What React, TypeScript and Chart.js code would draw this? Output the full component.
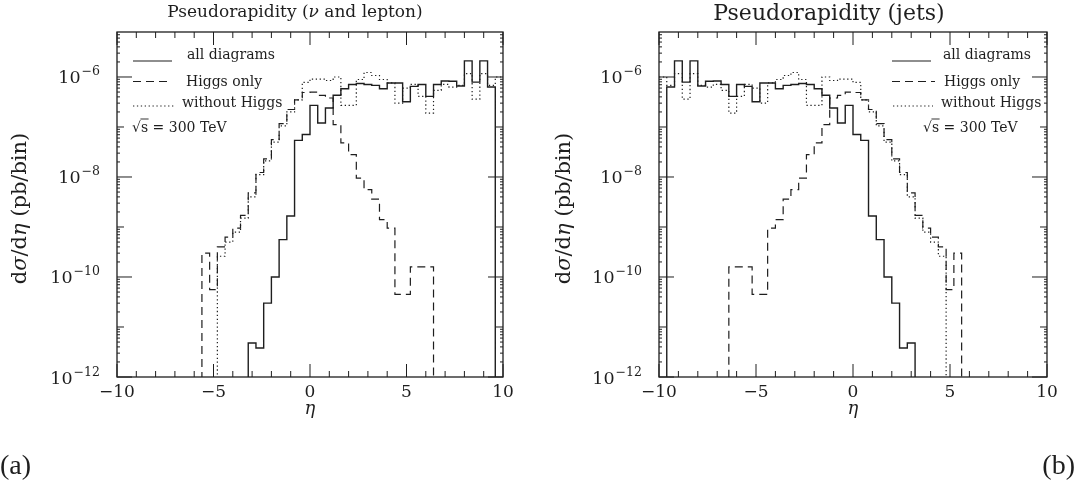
import React, { useEffect, useRef } from "react";
import { Chart, registerables } from "chart.js";

Chart.register(...registerables);

// ---------------- data ----------------
// lower edges of the 0.4-wide pseudorapidity bins
const etaBinLow = [
  -10, -9.6, -9.2, -8.8, -8.4, -8, -7.6, -7.2, -6.8, -6.4,
  -6, -5.6, -5.2, -4.8, -4.4, -4, -3.6, -3.2, -2.8, -2.4,
  -2, -1.6, -1.2, -0.8, -0.4, 0, 0.4, 0.8, 1.2, 1.6,
  2, 2.4, 2.8, 3.2, 3.6, 4, 4.4, 4.8, 5.2, 5.6,
  6, 6.4, 6.8, 7.2, 7.6, 8, 8.4, 8.8, 9.2, 9.6,
];
const etaUpperEdge = 10;
const etaTickLabels = [-10, -5, 0, 5, 10];
const etaMinorTicks = [-10, -9, -8, -7, -6, -5, -4, -3, -2, -1, 0, 1, 2, 3, 4, 5, 6, 7, 8, 9, 10];
const yDecadeExps = [-12, -11, -10, -9, -8, -7, -6];
const yLabelExps = [-12, -10, -8, -6];
const yAxisMin = 1e-12;
const yAxisMax = 7.94e-6;

// (a) neutrino and lepton, pb/bin
const nuLepAll = [
  0, 0, 0, 0, 0, 0, 0, 0, 0, 0,
  0, 0, 0, 0, 0, 0, 0, 4.8e-12, 3.8e-12, 3.0e-11,
  1.0e-10, 5.6e-10, 1.66e-9, 5.4e-8, 7.1e-8, 2.7e-7, 1.2e-7, 2.4e-7, 4.3e-7, 5.8e-7,
  7.1e-7, 7.4e-7, 7.1e-7, 6.8e-7, 5.8e-7, 7.6e-7, 7.6e-7, 3.2e-7, 6.5e-7, 7.1e-7,
  4.1e-7, 7.1e-7, 8.3e-7, 8.2e-7, 6.6e-7, 2.1e-6, 7.9e-7, 2.1e-6, 6.3e-7, 0,
];
const nuLepHiggs = [
  0, 0, 0, 0, 0, 0, 0, 0, 0, 0,
  0, 3.0e-10, 5.6e-11, 4.0e-10, 6.3e-10, 9.5e-10, 1.7e-9, 4.8e-9, 1.23e-8, 2.3e-8,
  5.6e-8, 1.17e-7, 2.24e-7, 3.5e-7, 4.9e-7, 5.0e-7, 4.3e-7, 3.8e-7, 1.12e-7, 4.8e-8,
  2.8e-8, 9.5e-9, 5.6e-9, 3.6e-9, 1.4e-9, 9.5e-10, 4.5e-11, 4.5e-11, 1.6e-10, 1.6e-10,
  1.6e-10, 0, 0, 0, 0, 0, 0, 0, 0, 0,
];
const nuLepNoHiggs = [
  0, 0, 0, 0, 0, 0, 0, 0, 0, 0,
  0, 0, 0, 2.6e-10, 5.0e-10, 7.9e-10, 1.5e-9, 4.0e-9, 1.12e-8, 2.1e-8,
  5.0e-8, 1.05e-7, 2.0e-7, 3.5e-7, 7.8e-7, 9.1e-7, 9.1e-7, 8.5e-7, 1.0e-6, 2.7e-7,
  2.7e-7, 8.9e-7, 1.23e-6, 1.07e-6, 8.9e-7, 7.6e-7, 3.0e-7, 6.0e-7, 7.1e-7, 4.1e-7,
  1.9e-7, 5.4e-7, 7.1e-7, 6.3e-7, 6.8e-7, 1.17e-6, 3.6e-7, 1.17e-6, 6.8e-7, 1.0e-6,
];

// (b) jets, pb/bin
const jetsAll = [
  0, 6.3e-7, 2.1e-6, 7.9e-7, 2.1e-6, 6.6e-7, 8.2e-7, 8.3e-7, 7.1e-7, 4.1e-7,
  7.1e-7, 6.5e-7, 3.2e-7, 7.6e-7, 7.6e-7, 5.8e-7, 6.8e-7, 7.1e-7, 7.4e-7, 7.1e-7,
  5.8e-7, 4.3e-7, 2.4e-7, 1.2e-7, 2.7e-7, 7.1e-8, 5.4e-8, 1.66e-9, 5.6e-10, 1.0e-10,
  3.0e-11, 3.8e-12, 4.8e-12, 0, 0, 0, 0, 0, 0, 0,
  0, 0, 0, 0, 0, 0, 0, 0, 0, 0,
];
const jetsHiggs = [
  0, 0, 0, 0, 0, 0, 0, 0, 0, 1.6e-10,
  1.6e-10, 1.6e-10, 4.5e-11, 4.5e-11, 9.5e-10, 1.4e-9, 3.6e-9, 5.6e-9, 9.5e-9, 2.8e-8,
  4.8e-8, 1.12e-7, 3.8e-7, 4.3e-7, 5.0e-7, 4.9e-7, 3.5e-7, 2.24e-7, 1.17e-7, 5.6e-8,
  2.3e-8, 1.23e-8, 4.8e-9, 1.7e-9, 9.5e-10, 6.3e-10, 4.0e-10, 5.6e-11, 3.0e-10, 0,
  0, 0, 0, 0, 0, 0, 0, 0, 0, 0,
];
const jetsNoHiggs = [
  1.0e-6, 6.8e-7, 1.17e-6, 3.6e-7, 1.17e-6, 6.8e-7, 6.3e-7, 7.1e-7, 5.4e-7, 1.9e-7,
  4.1e-7, 7.1e-7, 6.0e-7, 3.0e-7, 7.6e-7, 8.9e-7, 1.07e-6, 1.23e-6, 8.9e-7, 2.7e-7,
  2.7e-7, 1.0e-6, 8.5e-7, 9.1e-7, 9.1e-7, 7.8e-7, 3.5e-7, 2.0e-7, 1.05e-7, 5.0e-8,
  2.1e-8, 1.12e-8, 4.0e-9, 1.5e-9, 7.9e-10, 5.0e-10, 2.6e-10, 0, 0, 0,
  0, 0, 0, 0, 0, 0, 0, 0, 0, 0,
];

const legendLabels = ["all diagrams", "Higgs only", "without Higgs"];
const energyLabel = "s = 300 TeV";

// ---------------- styling ----------------
const H = 482;
const SERIF = '"DejaVu Serif", serif';
const CMR = '"Liberation Serif", serif';
const INK = "#1e1e1e";
const OFF_SCALE = 1e-14; // empty bins are drawn below the axis floor (clipped)
const DASH = [8, 5];
const DOT = [1.3, 2.6];

type Seg = [string, string];

interface PanelCfg {
  left: number;
  width: number;
  axisWidth: number;
  padRight: number;
  title: Seg[];
  titleX: number;
  titleY: number;
  all: number[];
  higgs: number[];
  noHiggs: number[];
  legendLines: [number, number][];
  legendTextX: number[];
  energyX: number;
  legendFont: string;
  yTitleX: number;
  tag: string;
  tagX: number;
  tagAlign: CanvasTextAlign;
}

function drawSegs(ctx: CanvasRenderingContext2D, segs: Seg[], x: number, y: number, align: string) {
  let total = 0;
  for (const [t, f] of segs) {
    ctx.font = f;
    total += ctx.measureText(t).width;
  }
  let cx = align === "center" ? x - total / 2 : align === "right" ? x - total : x;
  ctx.textAlign = "left";
  for (const [t, f] of segs) {
    ctx.font = f;
    ctx.fillText(t, cx, y);
    cx += ctx.measureText(t).width;
  }
}

function makeDecor(cfg: PanelCfg) {
  return {
    id: "panelDecor",
    afterDraw(chart: any) {
      const ctx: CanvasRenderingContext2D = chart.ctx;
      const { left, right, top, bottom } = chart.chartArea;
      const xs = chart.scales.x;
      const ys = chart.scales.y;
      ctx.save();
      ctx.strokeStyle = INK;
      ctx.fillStyle = INK;
      ctx.setLineDash([]);
      // frame
      ctx.lineWidth = 1.3;
      ctx.strokeRect(left, top, right - left, bottom - top);
      ctx.lineWidth = 1;
      const tick = (x1: number, y1: number, x2: number, y2: number) => {
        ctx.beginPath();
        ctx.moveTo(x1, y1);
        ctx.lineTo(x2, y2);
        ctx.stroke();
      };
      for (const v of etaMinorTicks) {
        const px = xs.getPixelForValue(v);
        const len = etaTickLabels.includes(v) ? 13 : 6;
        tick(px, bottom, px, bottom - len);
        tick(px, top, px, top + len);
      }
      for (const e of yDecadeExps) {
        const py = ys.getPixelForValue(Math.pow(10, e));
        const len = yLabelExps.includes(e) ? 15 : 7;
        tick(left, py, left + len, py);
        tick(right, py, right - len, py);
        for (let m = 2; m <= 9; m++) {
          const v = m * Math.pow(10, e);
          if (v > yAxisMax) break;
          const p = ys.getPixelForValue(v);
          tick(left, p, left + 3, p);
          tick(right, p, right - 3, p);
        }
      }
      // y tick labels with superscript exponents
      ctx.textBaseline = "alphabetic";
      ctx.textAlign = "left";
      for (const e of yLabelExps) {
        const py = ys.getPixelForValue(Math.pow(10, e));
        const exp = "\u2212" + Math.abs(e);
        const fb = `17.5px ${SERIF}`;
        const fs = `12.5px ${SERIF}`;
        ctx.font = fb;
        const wb = ctx.measureText("10").width;
        ctx.font = fs;
        const we = ctx.measureText(exp).width;
        const xr = left - 17;
        ctx.font = fb;
        ctx.fillText("10", xr - we - wb - 1, py + 6.5);
        ctx.font = fs;
        ctx.fillText(exp, xr - we, py - 1.5);
      }
      // y axis title
      ctx.save();
      ctx.translate(cfg.yTitleX, (top + bottom) / 2 + 4);
      ctx.rotate(-Math.PI / 2);
      ctx.textBaseline = "middle";
      const f = `21px ${SERIF}`;
      const fi = `italic 21px ${SERIF}`;
      drawSegs(ctx, [["d", f], ["\u03c3", fi], ["/d", f], ["\u03b7", fi], [" (pb/bin)", f]], 0, 0, "center");
      ctx.restore();
      // panel title
      ctx.textBaseline = "middle";
      drawSegs(ctx, cfg.title, cfg.titleX, cfg.titleY, "center");
      // legend
      const lineYs = [61, 81.5, 106];
      const textYs = [55, 82, 103];
      const dashes = [[], DASH, DOT];
      ctx.lineWidth = 1.2;
      for (let i = 0; i < 3; i++) {
        ctx.setLineDash(dashes[i]);
        const [lx1, lx2] = cfg.legendLines[i];
        tick(lx1, lineYs[i], lx2, lineYs[i]);
      }
      ctx.setLineDash([]);
      ctx.font = cfg.legendFont;
      ctx.textAlign = "left";
      for (let i = 0; i < 3; i++) {
        ctx.fillText(legendLabels[i], cfg.legendTextX[i], textYs[i]);
      }
      // sqrt(s) = 300 TeV
      const ey = 128;
      ctx.font = cfg.legendFont;
      const wRoot = ctx.measureText("\u221a").width;
      const wS = ctx.measureText("s").width;
      ctx.fillText("\u221a", cfg.energyX, ey);
      ctx.fillText(energyLabel, cfg.energyX + wRoot, ey);
      ctx.lineWidth = 0.9;
      tick(cfg.energyX + wRoot - 0.5, ey - 9, cfg.energyX + wRoot + wS + 0.5, ey - 9);
      // (a)/(b) tag
      ctx.font = `28px ${CMR}`;
      ctx.textAlign = cfg.tagAlign;
      ctx.textBaseline = "alphabetic";
      ctx.fillText(cfg.tag, cfg.tagX, 474);
      ctx.restore();
    },
  };
}

function toPoints(vals: number[]) {
  const pts = etaBinLow.map((x, i) => ({ x, y: vals[i] > 0 ? vals[i] : OFF_SCALE }));
  const last = vals[vals.length - 1];
  pts.push({ x: etaUpperEdge, y: last > 0 ? last : OFF_SCALE });
  return pts;
}

function fmtEta(v: number) {
  return v < 0 ? "\u2212" + Math.abs(v) : String(v);
}

function Panel({ cfg }: { cfg: PanelCfg }) {
  const ref = useRef<HTMLCanvasElement>(null);
  useEffect(() => {
    if (!ref.current) return;
    const common = { stepped: "before", pointRadius: 0, borderColor: INK, fill: false, tension: 0 };
    const chart = new Chart(ref.current, {
      type: "line",
      data: {
        datasets: [
          { ...common, label: legendLabels[2], data: toPoints(cfg.noHiggs), borderWidth: 1.2, borderDash: DOT },
          { ...common, label: legendLabels[1], data: toPoints(cfg.higgs), borderWidth: 1.2, borderDash: DASH },
          { ...common, label: legendLabels[0], data: toPoints(cfg.all), borderWidth: 1.4 },
        ] as any,
      },
      options: {
        responsive: false,
        animation: false,
        events: [],
        layout: { padding: { left: 0, right: cfg.padRight, top: 32, bottom: 0 } },
        scales: {
          x: {
            type: "linear",
            min: -10,
            max: 10,
            grid: { display: false, drawTicks: false },
            border: { display: false },
            ticks: {
              stepSize: 5,
              padding: 5,
              autoSkip: false,
              maxRotation: 0,
              color: INK,
              font: { family: SERIF, size: 17 },
              callback: (v: any) => fmtEta(Number(v)),
            },
            title: {
              display: true,
              text: "\u03b7",
              color: INK,
              font: { family: SERIF, size: 18, style: "italic" },
              padding: { top: 0, bottom: 62 },
            },
            afterFit: (s: any) => {
              s.height = H - 377;
            },
          },
          y: {
            type: "logarithmic",
            min: yAxisMin,
            max: yAxisMax,
            grid: { display: false, drawTicks: false },
            border: { display: false },
            ticks: { display: false },
            afterFit: (s: any) => {
              s.width = cfg.axisWidth;
            },
          },
        },
        plugins: {
          legend: { display: false },
          tooltip: { enabled: false },
          title: { display: false },
        },
      } as any,
      plugins: [makeDecor(cfg)],
    });
    return () => chart.destroy();
  }, [cfg]);
  return (
    <canvas
      ref={ref}
      width={cfg.width}
      height={H}
      style={{ position: "absolute", left: cfg.left, top: 0, width: cfg.width, height: H }}
    />
  );
}

const panelA: PanelCfg = {
  left: 0,
  width: 537,
  axisWidth: 117,
  padRight: 34,
  title: [
    ["Pseudorapidity (", `17px ${SERIF}`],
    ["\u03bd", `italic 17px ${SERIF}`],
    [" and lepton)", `17px ${SERIF}`],
  ],
  titleX: 295,
  titleY: 13,
  all: nuLepAll,
  higgs: nuLepHiggs,
  noHiggs: nuLepNoHiggs,
  legendLines: [
    [133, 172],
    [133, 172],
    [133, 175],
  ],
  legendTextX: [187, 186, 182],
  energyX: 132,
  legendFont: `14px ${SERIF}`,
  yTitleX: 21,
  tag: "(a)",
  tagX: 0,
  tagAlign: "left",
};

const panelB: PanelCfg = {
  left: 537,
  width: 538,
  axisWidth: 122,
  padRight: 28,
  title: [["Pseudorapidity (jets)", `22px ${SERIF}`]],
  titleX: 292,
  titleY: 14,
  all: jetsAll,
  higgs: jetsHiggs,
  noHiggs: jetsNoHiggs,
  legendLines: [
    [355, 394],
    [355, 398],
    [356, 396],
  ],
  legendTextX: [406, 407, 404],
  energyX: 386,
  legendFont: `14px ${SERIF}`,
  yTitleX: 28,
  tag: "(b)",
  tagX: 538,
  tagAlign: "right",
};

export default function App() {
  return (
    <div style={{ position: "fixed", left: 0, top: 0, width: 1075, height: H, background: "#fff" }}>
      <Panel cfg={panelA} />
      <Panel cfg={panelB} />
    </div>
  );
}
